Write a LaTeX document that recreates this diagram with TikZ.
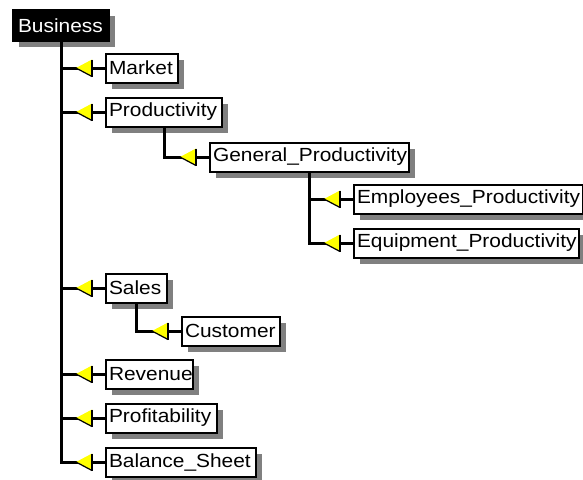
\documentclass[tikz,border=0pt]{standalone}
\usepackage{fontspec}
\setmainfont{Liberation Sans}[FakeStretch=1.1]
\usetikzlibrary{shadows,calc}
\definecolor{shadowgray}{HTML}{808080}
\definecolor{triyellow}{HTML}{FFFF00}
\tikzset{
  box/.style={draw=black, line width=2pt, fill=white, anchor=west,
    inner xsep=3pt, inner ysep=0pt, minimum height=29pt, align=left,
    font=\fontsize{19}{19}\selectfont,
    general shadow={fill=shadowgray, shadow xshift=6pt, shadow yshift=-6pt}},
  rootbox/.style={box, fill=black, text=white, minimum height=31pt, inner xsep=5pt},
  link/.style={draw=black, line width=3pt},
}
\newcommand{\marktri}[1]{%
  \fill[triyellow] ($(#1.west)+(-29,0)$) -- ++(16,-8.5) -- ++(0,17) -- cycle;
  \draw[black, line width=1.2pt, line join=miter] ($(#1.west)+(-29,0)$) -- ++(16,8.5);
  \draw[black, line width=2.5pt] ($(#1.west)+(-13,-8.5)$) -- ++(0,17);
}
\begin{document}
\begin{tikzpicture}[x=1pt, y=-1pt]
\useasboundingbox (0,0) rectangle (583,479);
\node[rootbox, text width=86pt] (business) at (12,25.5) {Business};
\node[box, text width=66pt] (market) at (105,68) {Market};
\node[box, text width=110pt] (prod) at (105,112) {Productivity};
\node[box, text width=193pt] (gp) at (209,157) {General\_Productivity};
\node[box, text width=223pt] (emp) at (353,199) {Employees\_Productivity};
\node[box, text width=219pt] (equip) at (353,243) {Equipment\_Productivity};
\node[box, text width=55pt] (sales) at (105,288) {Sales};
\node[box, text width=92pt] (cust) at (181,331) {Customer};
\node[box, text width=81pt] (rev) at (105,374) {Revenue};
\node[box, text width=105pt] (profit) at (105,418) {Profitability};
\node[box, text width=144pt] (balance) at (105,462) {Balance\_Sheet};
\draw[link] (business.south) |- (market.west);
\draw[link] (business.south) |- (prod.west);
\draw[link] (business.south) |- (sales.west);
\draw[link] (business.south) |- (rev.west);
\draw[link] (business.south) |- (profit.west);
\draw[link] (business.south) |- (balance.west);
\draw[link] (prod.south) |- (gp.west);
\draw[link] (gp.south) |- (emp.west);
\draw[link] (gp.south) |- (equip.west);
\draw[link] (sales.south) |- (cust.west);
\foreach \n in {market,prod,gp,emp,equip,sales,cust,rev,profit,balance}{\marktri{\n}}
\end{tikzpicture}
\end{document}
